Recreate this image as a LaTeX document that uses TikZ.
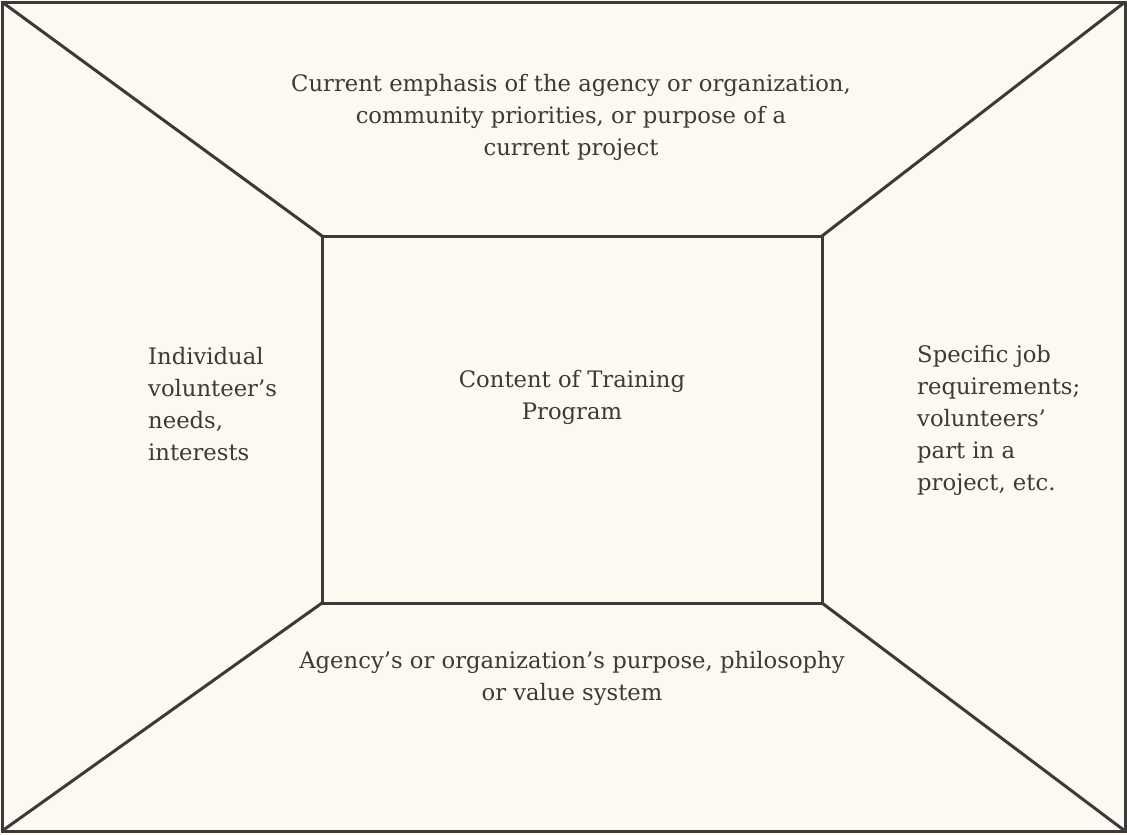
\documentclass[tikz,border=0pt]{standalone}
\usepackage{fontspec}
\setmainfont{DejaVu Serif}
\definecolor{paper}{HTML}{FBF9F0}
\definecolor{ink}{HTML}{3A3A3A}
\tikzset{
  frame/.style={draw=ink, line width=3pt, line join=miter},
  label/.style={text=ink, font=\fontsize{22.7}{32}\selectfont, inner sep=0pt},
}
\begin{document}
\begin{tikzpicture}[x=1pt,y=-1pt]
\fill[paper] (0,0) rectangle (1127,835);
\useasboundingbox (0,0) rectangle (1127,835);
\coordinate (o1) at (2,2);
\coordinate (o2) at (1125,2);
\coordinate (o3) at (1125,831);
\coordinate (o4) at (2,831);
\coordinate (i1) at (322,236);
\coordinate (i2) at (822,236);
\coordinate (i3) at (822,603);
\coordinate (i4) at (322,603);
\draw[frame] (o1) -- (o2) -- (o3) -- (o4) -- cycle;
\draw[frame] (i1) -- (i2) -- (i3) -- (i4) -- cycle;
\draw[frame] (o1) -- (i1);
\draw[frame] (o2) -- (i2);
\draw[frame] (o3) -- (i3);
\draw[frame] (o4) -- (i4);
\node[label, align=center] (top) at (571,117) {Current emphasis of the agency or organization,\\community priorities, or purpose of a\\current project};
\node[label, align=left, anchor=west] (left) at (148,404) {Individual\\volunteer's\\needs,\\interests};
\node[label, align=center] (mid) at (572,397) {Content of Training\\Program};
\node[label, align=left, anchor=west] (right) at (917,420) {Specific job\\requirements;\\volunteers'\\part in a\\project, etc.};
\node[label, align=center] (bot) at (572,678) {Agency's or organization's purpose, philosophy\\or value system};
\end{tikzpicture}
\end{document}
